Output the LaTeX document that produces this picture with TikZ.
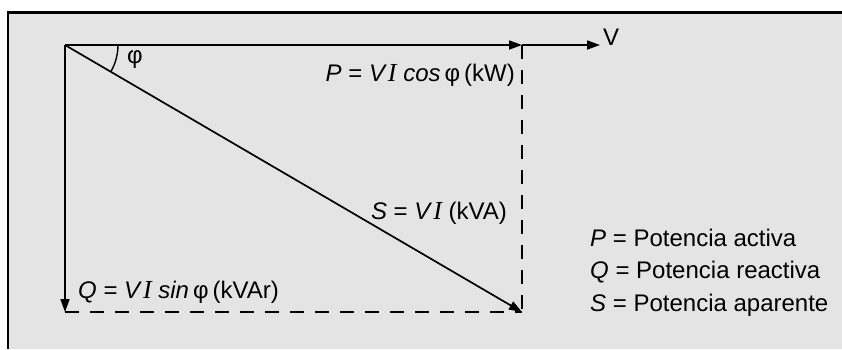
\documentclass[tikz,border=0pt]{standalone}
\usepackage{fontspec}
\setmainfont{Liberation Sans}
\newfontfamily\tms{Liberation Serif}
\usetikzlibrary{arrows.meta,calc}
\definecolor{panel}{HTML}{E4E4E4}
\newcommand{\VI}{\textit{V}\kern1pt{\tms\itshape\fontsize{26}{26}\selectfont I}}
\tikzset{
  vec/.style={line width=1.7pt,-{Triangle[length=13pt,width=9pt]}},
  guide/.style={line width=1.7pt,dash pattern=on 14pt off 11pt},
  lbl/.style={inner sep=0pt,font=\fontsize{24}{28}\selectfont},
}
\begin{document}
\begin{tikzpicture}[x=1pt,y=-1pt]
\useasboundingbox (0,0) rectangle (842,349);
\fill[white] (0,0) rectangle (842,349);
\fill[panel] (8,12) rectangle (842,349);
\draw[line width=3pt] (7,12) -- (842,12);
\draw[line width=2pt] (8,12) -- (8,349);
% points
\coordinate (O) at (65,45);
\coordinate (P) at (522,45);
\coordinate (V) at (600,45);
\coordinate (Q) at (65,312);
\coordinate (S) at (522,312);
% guides
\draw[guide] (P) -- (S);
\draw[guide] (Q) -- (S);
% vectors
\draw[vec] (O) -- (P);
\draw[vec] (P) -- (V);
\draw[vec] (O) -- (Q);
\draw[vec] (O) -- (S);
% angle arc
\draw[line width=1.4pt] ($(O)+(53,0)$) arc[start angle=0,end angle=30.3,radius=53];
\node[lbl] (phi) at (135,60) {φ};
\node[lbl,anchor=west] (vl) at (603,37) {V};
\node[lbl,anchor=east] (pl) at (515,75) {\textit{P} = \VI\ \textit{cos}\,φ\,(kW)};
\node[lbl,anchor=east] (sl) at (507,213) {\textit{S} = \VI\ (kVA)};
\node[lbl,anchor=west] (ql) at (78,292) {\textit{Q} = \VI\ \textit{sin}\,φ\,(kVAr)};
\node[lbl,anchor=west] (l1) at (590,238) {\textit{P} = Potencia activa};
\node[lbl,anchor=west] (l2) at (590,272) {\textit{Q} = Potencia reactiva};
\node[lbl,anchor=west] (l3) at (590,305) {\textit{S} = Potencia aparente};
\end{tikzpicture}
\end{document}
